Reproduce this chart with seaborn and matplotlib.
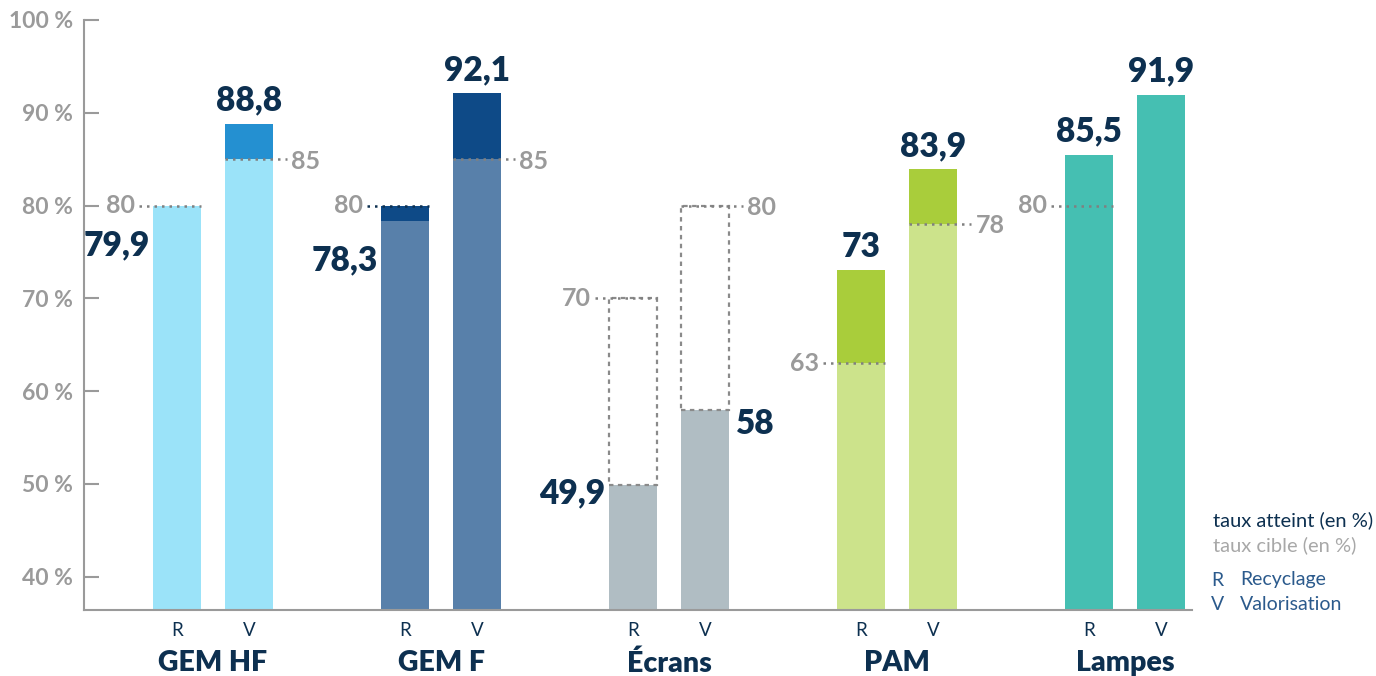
import numpy as np
import pandas as pd
import seaborn as sns
import matplotlib.pyplot as plt
from matplotlib.patches import Rectangle

# -------------------- DONNEES --------------------
categories = ["GEM HF", "GEM F", "Écrans", "PAM", "Lampes"]
r_atteint = [79.9, 78.3, 49.9, 73, 85.5]
v_atteint = [88.8, 92.1, 58, 83.9, 91.9]
r_cible = [80, 80, 70, 63, 80]
v_cible = [85, 85, 80, 78, np.nan]
yticks = [40, 50, 60, 70, 80, 90, 100]

# couleurs (clair = base, fonce = ecart)
col_clair = ["#9be3f9", "#5880aa", "#b0bdc3", "#cce38b", "#45bfb2"]
col_fonce = ["#2490d1", "#0e4a87", "#b0bdc3", "#a9cd3b", "#45bfb2"]
outline_only = [False, False, True, False, False]  # Écrans : cible en pointillés
r_label_side = ["left", "left", "left", "top", "top"]
v_label_side = ["top", "top", "right", "top", "top"]

NAVY = "#0d3050"
GRIS = "#9a9a9a"
FONT = "Lato"

rows = []
for i, cat in enumerate(categories):
    for t, val, cib, side in (("R", r_atteint[i], r_cible[i], r_label_side[i]),
                              ("V", v_atteint[i], v_cible[i], v_label_side[i])):
        if np.isnan(cib) or outline_only[i]:
            haut, bas = val, val
        else:
            haut, bas = max(val, cib), min(val, cib)
        rows.append(dict(cat=cat, type=t, val=val, cible=cib, haut=haut, bas=bas,
                         side=side, idx=i))
df = pd.DataFrame(rows)

sns.set_theme(style="white")
plt.rcParams["font.family"] = [FONT, "DejaVu Sans"]

fig = plt.figure(figsize=(13.76, 6.76), dpi=100)
ax = fig.add_axes([84 / 1376, 1 - 610 / 676, (1192 - 84) / 1376, 590 / 676])


def layer(col, couleurs):
    n0 = len(ax.patches)
    sns.barplot(data=df, x="cat", y=col, hue="type", order=categories,
                hue_order=["R", "V"], width=0.632, gap=0.33, errorbar=None,
                legend=False, ax=ax, linewidth=0, saturation=1)
    out = {}
    for p in ax.patches[n0:]:
        cx = p.get_x() + p.get_width() / 2
        i = int(round(cx))
        t = "R" if cx < i else "V"
        p.set_facecolor(couleurs[i])
        p.set_edgecolor("none")
        out[(i, t)] = p
    return out


layer("haut", col_fonce)
bars = layer("bas", col_clair)

for _, r in df.iterrows():
    p = bars[(r.idx, r.type)]
    x0, w = p.get_x(), p.get_width()
    x1 = x0 + w
    lab = f"{r.val:g}".replace(".", ",")

    # boite cible en pointillés (Écrans)
    if outline_only[r.idx]:
        ax.add_patch(Rectangle((x0, r.val), w, r.cible - r.val, fill=False,
                               edgecolor="#8a8a8a", linestyle=(0, (2, 2)),
                               linewidth=1.6, zorder=3))

    # ligne cible + valeur cible
    if not np.isnan(r.cible):
        dots = NAVY if r.idx == 1 and r.type == "R" else "#808080"
        cl = f"{r.cible:g}"
        if r.type == "R":
            ax.plot([x0 - 0.06, x1], [r.cible, r.cible], linestyle=(0, (1, 2)),
                    color=dots, linewidth=1.8, zorder=4)
            ax.text(x0 - 0.08, r.cible, cl, ha="right", va="center", fontsize=18,
                    fontweight="bold", color=GRIS)
        else:
            ax.plot([x0, x1 + 0.06], [r.cible, r.cible], linestyle=(0, (1, 2)),
                    color=dots, linewidth=1.8, zorder=4)
            ax.text(x1 + 0.08, r.cible - 0.2, cl, ha="left", va="center", fontsize=18,
                    fontweight="bold", color=GRIS)

    # valeur atteinte
    kw = dict(fontsize=24, fontweight="heavy", color=NAVY)
    if r.side == "top":
        ax.text(x0 + w / 2, max(r.haut, r.val) + 0.8, lab, ha="center", va="bottom", **kw)
    elif r.side == "left":
        dy = 4.2 if r.val > 60 else 0.9
        ax.text(x0 - 0.015, r.val - dy, lab, ha="right", va="center", **kw)
    else:
        ax.text(x1 + 0.03, r.val - 1.6, lab, ha="left", va="center", **kw)

    # R / V sous la barre
    ax.text(x0 + w / 2, -0.034, r.type, transform=ax.get_xaxis_transform(),
            ha="center", va="center", fontsize=13.5, color=NAVY)

ax.set_xlim(-0.566, 4.294)
ax.set_ylim(36.4, 100)
ax.set_yticks(yticks)
ax.set_yticklabels([f"{v} %" for v in yticks], fontsize=16.5, fontweight="bold", color=GRIS)
ax.tick_params(axis="y", direction="in", length=11, width=1.5, color=GRIS, pad=8, left=True)
ax.tick_params(axis="x", length=0, pad=29)
for t in ax.get_xticklabels():
    t.set_fontsize(20.5)
    t.set_fontweight("heavy")
    t.set_color(NAVY)
ax.set_xlabel("")
ax.set_ylabel("")
for s in ("top", "right"):
    ax.spines[s].set_visible(False)
for s in ("left", "bottom"):
    ax.spines[s].set_color(GRIS)
    ax.spines[s].set_linewidth(1.5)

# legende texte
lx, lx2 = 1213 / 1376, 1240 / 1376
fig.text(lx, 1 - 520 / 676, "taux atteint (en %)", fontsize=14.5, color=NAVY, va="center")
fig.text(lx, 1 - 545 / 676, "taux cible (en %)", fontsize=14.5, color="#a8a8a8", va="center")
fig.text(1211 / 1376, 1 - 580 / 676, "R", fontsize=14, color="#2b5a8c", va="center")
fig.text(lx2, 1 - 580 / 676, "Recyclage", fontsize=14, color="#2b5a8c", va="center")
fig.text(1211 / 1376, 1 - 604 / 676, "V", fontsize=14, color="#2b5a8c", va="center")
fig.text(lx2, 1 - 604 / 676, "Valorisation", fontsize=14, color="#2b5a8c", va="center")

fig.savefig("out.png", dpi=100)
